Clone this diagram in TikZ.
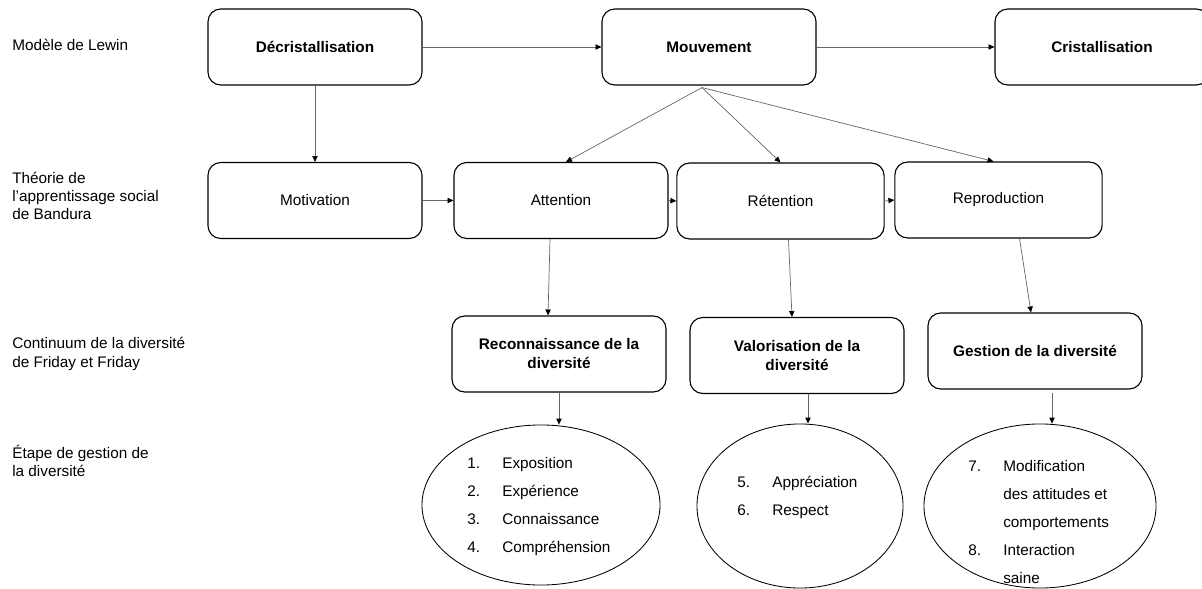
\documentclass[tikz,border=0pt]{standalone}
\usepackage{fontspec}
\setmainfont{Liberation Sans}
\usetikzlibrary{shapes.geometric,arrows.meta,calc}
\tikzset{
  box/.style={draw,line width=0.8pt,rounded corners=0.32cm,minimum width=5.35cm,minimum height=1.9cm,align=center,inner sep=2pt},
  boldbox/.style={box,font=\fontsize{10.9}{13.5}\selectfont\bfseries},
  oval/.style={draw,ellipse,line width=0.6pt,inner sep=0pt},
  lab/.style={anchor=west,align=left,inner sep=0pt},
  list/.style={anchor=west,align=left,inner sep=0pt,font=\fontsize{10.9}{19.9}\selectfont},
  link/.style={draw=black!60,line width=0.5pt,-{Triangle[length=4.2pt,width=3.8pt,color=black]}}
}
\newcommand{\itemno}[1]{\makebox[0.875cm][l]{#1}}
\begin{document}
\begin{tikzpicture}[x=0.025cm,y=-0.025cm,font=\fontsize{10.9}{13}\selectfont]
\useasboundingbox (0,0) rectangle (1202,589);
% labels on the left
\node[lab] (lewin) at (12,45) {Modèle de Lewin};
\node[lab] (bandura) at (12,196) {Théorie de\\l’apprentissage social\\de Bandura};
\node[lab] (friday) at (12,354) {Continuum de la diversité\\de Friday et Friday};
\node[lab] (etape) at (12,461) {Étape de gestion de\\la diversité};
% Lewin
\node[boldbox] (dec) at (315,47) {Décristallisation};
\node[boldbox] (mouv) at (709,47) {Mouvement};
\node[boldbox] (crist) at (1102,47) {Cristallisation};
% Bandura
\node[box] (mot) at (315,200.5) {Motivation};
\node[box] (att) at (561,200.5) {Attention};
\node[box,minimum width=5.18cm] (ret) at (780.5,201) {Rétention};
\node[box,minimum width=5.18cm] (rep) at (998.5,200) {Reproduction};
% Friday et Friday
\node[boldbox] (rec) at (559,354) {Reconnaissance de la\\diversité};
\node[boldbox] (val) at (797,355.5) {Valorisation de la\\diversité};
\node[boldbox] (ges) at (1035,351) {Gestion de la diversité};
% etapes
\node[oval,minimum width=5.95cm,minimum height=4cm] (e1) at (541,505) {};
\node[oval,minimum width=5.15cm,minimum height=4.1cm] (e2) at (800,506) {};
\node[oval,minimum width=5.8cm,minimum height=4.1cm] (e3) at (1040,506) {};
\node[list] (t1) at (467,507) {\itemno{1.}Exposition\\\itemno{2.}Expérience\\\itemno{3.}Connaissance\\\itemno{4.}Compréhension};
\node[list] (t2) at (737,497) {\itemno{5.}Appréciation\\\itemno{6.}Respect};
\node[list] (t3) at (968,522) {\itemno{7.}Modification\\\hspace*{0.875cm}des attitudes et\\\hspace*{0.875cm}comportements\\\itemno{8.}Interaction\\\hspace*{0.875cm}saine};
% arrows
\draw[link] (dec.east) -- (mouv.west);
\draw[link] (mouv.east) -- (crist.west);
\draw[link] (dec.south) -- (mot.north);
\draw[link] (mot.east) -- (att.west);
\draw[link] (att.east) -- (ret.west);
\draw[link] (ret.east) -- (rep.west);
\coordinate (fan) at ($(mouv.south)+(-7,2)$);
\draw[link] (fan) -- ($(att.north)+(5,0)$);
\draw[link] (fan) -- (ret.north);
\draw[link] (fan) -- ($(rep.north)+(-5,0)$);
\draw[link] ($(att.south)+(-11,0)$) -- ($(rec.north)+(-11,0)$);
\draw[link] ($(ret.south)+(8,0)$) -- ($(val.north)+(-5,0)$);
\draw[link] ($(rep.south)+(21,0)$) -- ($(ges.north)+(-4,0)$);
\coordinate (rs) at (rec.south);
\coordinate (vs) at ($(val.south)+(11,0)$);
\coordinate (gs) at ($(ges.south)+(17,3)$);
\draw[link] (rs) -- (rs |- e1.north);
\draw[link] (vs) -- (vs |- e2.north);
\draw[link] (gs) -- (gs |- e3.north);
\end{tikzpicture}
\end{document}
